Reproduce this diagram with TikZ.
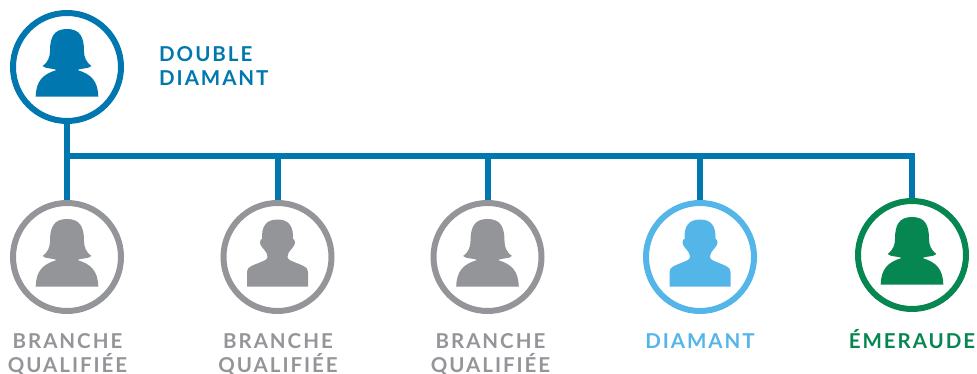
\documentclass[tikz,border=0pt]{standalone}
\usepackage{fontspec}
\setmainfont{Lato}[LetterSpace=9.5]
\definecolor{dblue}{HTML}{0077AE}
\definecolor{lblue}{HTML}{54B6E8}
\definecolor{grey}{HTML}{939598}
\definecolor{green}{HTML}{068650}
\tikzset{
	person/.style={draw=#1, circle, line width=6pt, minimum size=108pt, inner sep=0pt},
	bar/.style={draw=dblue, line width=6pt},
	lab/.style={font=\fontsize{20.5pt}{24pt}\selectfont\bfseries, inner sep=0pt, align=center, text=#1},
	woman/.pic={
		\fill[pic actions] (-31.3,29.7) .. controls (-31,14) and (-24,7) .. (-10.3,3)
			.. controls (-14,1) and (-22,2) .. (-24.3,-1)
			.. controls (-19,-5) and (-17,-10) .. (-17,-16)
			.. controls (-17,-30) and (-13,-38) .. (0,-38)
			.. controls (13,-38) and (17,-30) .. (17,-16)
			.. controls (17,-10) and (19,-5) .. (24.3,-1)
			.. controls (22,2) and (14,1) .. (10.3,3)
			.. controls (24,7) and (31,14) .. (31.3,29.7) -- cycle;
	},
	man/.pic={
		\fill[pic actions] (-30.5,29.5) -- (-30.5,15)
			.. controls (-30.5,9) and (-25,9) .. (-12,3)
			.. controls (-9,1) and (-10,-2) .. (-11,-4)
			.. controls (-13,-8) and (-18,-11) .. (-17.5,-15)
			.. controls (-17.5,-17) and (-16,-18) .. (-15.5,-18)
			.. controls (-16,-30) and (-12,-37.5) .. (0,-37.5)
			.. controls (12,-37.5) and (16,-30) .. (15.5,-18)
			.. controls (16,-18) and (17.5,-17) .. (17.5,-15)
			.. controls (18,-11) and (13,-8) .. (11,-4)
			.. controls (10,-2) and (9,1) .. (12,3)
			.. controls (25,9) and (30.5,9) .. (30.5,15) -- (30.5,29.5) -- cycle;
	}
}
\begin{document}
\begin{tikzpicture}[x=1pt,y=-1pt]
	\useasboundingbox (0,0) rectangle (977,374);
	\coordinate (bus) at (67,156);
	% circles
	\node[person=dblue] (dd) at (67,67) {};
	\node[person=grey] (qa) at (67,257) {};
	\node[person=grey] (qb) at (277.5,257) {};
	\node[person=grey] (qc) at (487.5,257) {};
	\node[person=lblue] (di) at (700,257) {};
	\node[person=green] (em) at (912,255) {};
	% connectors
	\draw[bar] (dd.south) -- (qa.north);
	\draw[bar] (bus) -| (em.north);
	\foreach \n in {qb,qc,di}
	\draw[bar] (\n.north |- bus) -- (\n.north);
	% people
	\pic[fill=dblue] at (dd) {woman};
	\pic[fill=grey] at (qa) {woman};
	\pic[fill=grey] at (qb) {man};
	\pic[fill=grey] at (qc) {woman};
	\pic[fill=lblue] at (di) {man};
	\pic[fill=green] at (em) {woman};
	% labels
	\node[lab=dblue, anchor=base west, align=left] (ddL) at (159,86) {DOUBLE\\DIAMANT};
	\node[lab=grey, anchor=base] (qaL) at (67.5,372) {BRANCHE\\QUALIFIÉE};
	\node[lab=grey, anchor=base] (qbL) at (278,372) {BRANCHE\\QUALIFIÉE};
	\node[lab=grey, anchor=base] (qcL) at (490.5,372) {BRANCHE\\QUALIFIÉE};
	\node[lab=lblue, anchor=base] (diL) at (700,348) {DIAMANT};
	\node[lab=green, anchor=base] (emL) at (912,348) {ÉMERAUDE};
\end{tikzpicture}
\end{document}
